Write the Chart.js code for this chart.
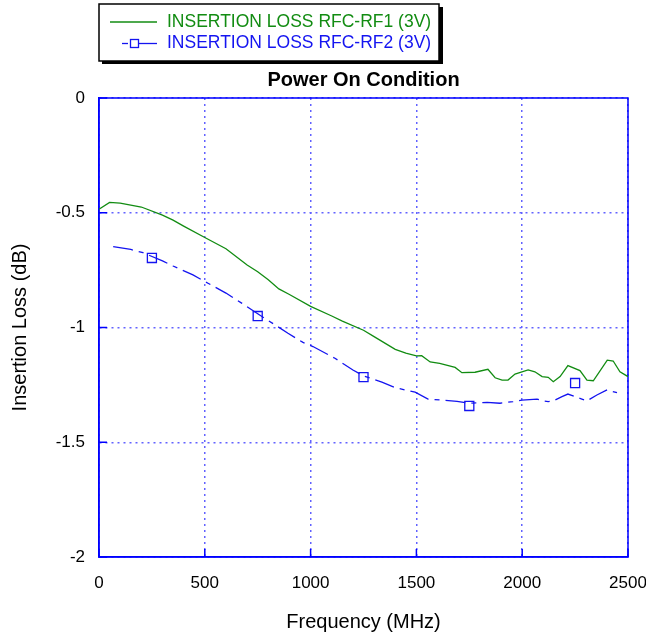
<!DOCTYPE html>
<html><head><meta charset="utf-8">
<script src="https://cdn.jsdelivr.net/npm/chart.js@4/dist/chart.umd.min.js"></script>
<style>html,body{margin:0;padding:0;background:#fff}#wrap{width:646px;height:639px;position:relative}</style>
</head><body><div id="wrap"><canvas id="c" width="646" height="639"></canvas></div>
<script>
const chartTitle = 'Power On Condition';
const xAxisTitle = 'Frequency (MHz)';
const yAxisTitle = 'Insertion Loss (dB)';
const seriesNames = ['INSERTION LOSS RFC-RF1 (3V)', 'INSERTION LOSS RFC-RF2 (3V)'];
const xTickValues = [0, 500, 1000, 1500, 2000, 2500];
const xTickLabels = ['0', '500', '1000', '1500', '2000', '2500'];
const yTickValues = [0, -0.5, -1, -1.5, -2];
const yTickLabels = ['0', '-0.5', '-1', '-1.5', '-2'];

const rf1Freq = [0, 50, 100, 200, 300, 350, 400, 500, 600, 700, 750, 800, 850, 900, 1000, 1100, 1150, 1250, 1300, 1400, 1450, 1500, 1525, 1565, 1610, 1683, 1715, 1777, 1838, 1872, 1905, 1933, 1966, 2028, 2060, 2094, 2123, 2147, 2179, 2216, 2273, 2306, 2336, 2402, 2430, 2462, 2500];
const rf1Loss = [-0.485, -0.455, -0.458, -0.475, -0.51, -0.532, -0.558, -0.608, -0.657, -0.728, -0.757, -0.792, -0.832, -0.856, -0.908, -0.95, -0.972, -1.012, -1.04, -1.095, -1.112, -1.124, -1.123, -1.15, -1.156, -1.174, -1.197, -1.195, -1.182, -1.219, -1.229, -1.229, -1.203, -1.185, -1.193, -1.214, -1.217, -1.236, -1.214, -1.166, -1.188, -1.229, -1.232, -1.142, -1.146, -1.193, -1.214];

const rf2Freq = [67, 150, 208, 300, 350, 444, 515, 600, 676, 750, 893, 964, 1011, 1115, 1200, 1248, 1337, 1399, 1494, 1555, 1621, 1692, 1750, 1834, 1895, 1957, 1999, 2070, 2094, 2123, 2147, 2188, 2216, 2282, 2306, 2353, 2401, 2448];
const rf2Loss = [-0.648, -0.66, -0.674, -0.71, -0.732, -0.771, -0.807, -0.85, -0.895, -0.94, -1.025, -1.065, -1.083, -1.134, -1.185, -1.21, -1.238, -1.262, -1.282, -1.312, -1.316, -1.322, -1.33, -1.326, -1.33, -1.323, -1.316, -1.312, -1.319, -1.323, -1.32, -1.301, -1.29, -1.312, -1.32, -1.294, -1.272, -1.284];

const rf2MarkerFreq = [250, 750, 1250, 1750, 2250];
const rf2MarkerLoss = [-0.697, -0.950, -1.216, -1.342, -1.242];

const GREEN = '#128c12';
const BLUE = '#1414f0';
const FONT = '"Liberation Sans", Arial, sans-serif';

const toPts = (xs, ys) => xs.map((x, i) => ({x: x, y: ys[i]}));

const decor = {
  id: 'decor',
  beforeDatasetsDraw(chart) {
    const {ctx, chartArea: a, scales: {x, y}} = chart;
    ctx.save();
    ctx.strokeStyle = '#0000ff';
    ctx.lineWidth = 1.5;
    ctx.setLineDash([]);
    ctx.strokeRect(a.left, a.top, a.right - a.left, a.bottom - a.top);
    xTickValues.forEach(v => {
      const px = x.getPixelForValue(v);
      ctx.beginPath(); ctx.moveTo(px, a.bottom); ctx.lineTo(px, a.bottom - 8); ctx.stroke();
    });
    yTickValues.forEach(v => {
      const py = y.getPixelForValue(v);
      ctx.beginPath(); ctx.moveTo(a.left, py); ctx.lineTo(a.left + 8, py); ctx.stroke();
    });
    ctx.restore();
  },
  afterDraw(chart) {
    const {ctx, chartArea: a} = chart;
    const ds = chart.data.datasets;
    ctx.save();
    ctx.fillStyle = '#000';
    ctx.font = 'bold 20px ' + FONT;
    ctx.textAlign = 'center';
    ctx.textBaseline = 'middle';
    ctx.fillText(chartTitle, (a.left + a.right) / 2, 80);
    ctx.fillStyle = '#000';
    ctx.fillRect(102, 7, 341, 57);
    ctx.fillStyle = '#fff';
    ctx.fillRect(99, 4, 340, 57);
    ctx.strokeStyle = '#000';
    ctx.lineWidth = 1.5;
    ctx.strokeRect(99, 4, 340, 57);
    ctx.font = '17.5px ' + FONT;
    ctx.textAlign = 'left';
    ctx.strokeStyle = ds[0].borderColor;
    ctx.lineWidth = ds[0].borderWidth;
    ctx.beginPath(); ctx.moveTo(110, 22); ctx.lineTo(157, 22); ctx.stroke();
    ctx.fillStyle = ds[0].borderColor;
    ctx.fillText(seriesNames[0], 167, 22);
    ctx.strokeStyle = ds[1].borderColor;
    ctx.lineWidth = ds[1].borderWidth;
    ctx.beginPath(); ctx.moveTo(122, 43.5); ctx.lineTo(128, 43.5); ctx.stroke();
    ctx.beginPath(); ctx.moveTo(139, 43.5); ctx.lineTo(157, 43.5); ctx.stroke();
    ctx.strokeRect(130.5, 39.5, 8, 8);
    ctx.fillStyle = ds[1].borderColor;
    ctx.fillText(seriesNames[1], 167, 43.5);
    ctx.restore();
  }
};

new Chart(document.getElementById('c'), {
  type: 'scatter',
  data: {
    datasets: [
      {label: seriesNames[0], data: toPts(rf1Freq, rf1Loss), showLine: true, borderColor: GREEN, backgroundColor: GREEN, borderWidth: 1.3, pointRadius: 0, tension: 0},
      {label: seriesNames[1], data: toPts(rf2Freq, rf2Loss), showLine: true, borderColor: BLUE, backgroundColor: BLUE, borderWidth: 1.3, borderDash: [20, 6, 5, 6], pointRadius: 0, tension: 0},
      {label: seriesNames[1] + ' markers', data: toPts(rf2MarkerFreq, rf2MarkerLoss), showLine: false, pointStyle: 'rect', pointRadius: 6.4, borderColor: BLUE, backgroundColor: 'rgba(0,0,0,0)', pointBorderWidth: 1.3, borderWidth: 1.3}
    ]
  },
  options: {
    responsive: false,
    devicePixelRatio: 1,
    animation: false,
    layout: {padding: {top: 98, right: 0, bottom: 0, left: 0}},
    plugins: {legend: {display: false}, title: {display: false}, tooltip: {enabled: false}},
    scales: {
      x: {
        type: 'linear', min: 0, max: 2500,
        afterFit: s => { s.height = 82; s.paddingRight = 18; },
        afterBuildTicks: s => { s.ticks = xTickValues.map(v => ({value: v})); },
        ticks: {font: {size: 17, family: FONT}, color: '#000', padding: 16, maxRotation: 0,
          callback: v => xTickLabels[xTickValues.indexOf(v)]},
        grid: {color: '#6262ff', lineWidth: 1.5, drawTicks: false},
        border: {display: true, color: '#0000ff', width: 1.5, dash: [2, 4]},
        title: {display: true, text: xAxisTitle, font: {size: 20, family: FONT}, color: '#000', padding: {top: 0, bottom: 5}}
      },
      y: {
        type: 'linear', min: -2, max: 0,
        afterFit: s => { s.width = 99; },
        afterBuildTicks: s => { s.ticks = yTickValues.map(v => ({value: v})); },
        ticks: {font: {size: 17, family: FONT}, color: '#000', padding: 14,
          callback: v => yTickLabels[yTickValues.indexOf(v)]},
        grid: {color: '#6262ff', lineWidth: 1.5, drawTicks: false},
        border: {display: true, color: '#0000ff', width: 1.5, dash: [2, 4]},
        title: {display: true, text: yAxisTitle, font: {size: 20, family: FONT}, color: '#000', padding: {top: 8, bottom: 0}}
      }
    }
  },
  plugins: [decor]
});
</script></body></html>
